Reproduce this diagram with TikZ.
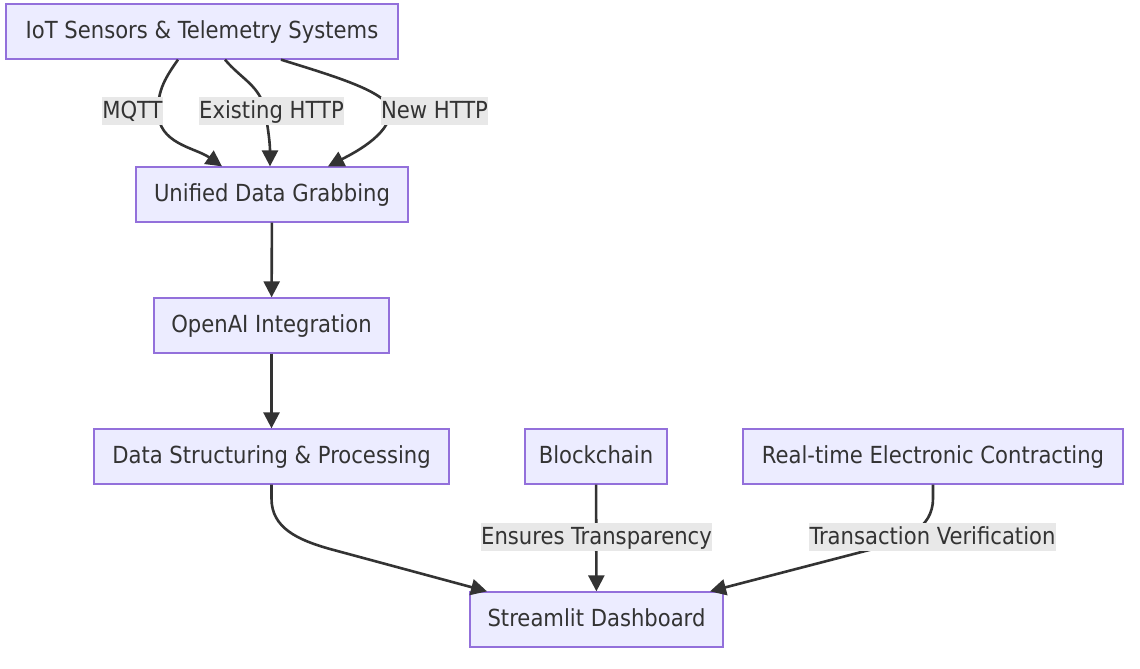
\documentclass[tikz,border=0pt]{standalone}
\usepackage{fontspec}
\setmainfont{DejaVu Sans Condensed}
\usetikzlibrary{arrows.meta}
\definecolor{nodefill}{HTML}{ECECFF}
\definecolor{nodeline}{HTML}{9370DB}
\definecolor{ink}{HTML}{333333}
\definecolor{labelbg}{HTML}{E8E8E8}
\begin{document}
\begin{tikzpicture}[x=1pt,y=-1pt,
  box/.style={draw=nodeline,fill=nodefill,line width=1.3pt,text=ink,inner sep=0pt,
    minimum height=55pt,text height=18pt,text depth=3.5pt,font=\fontsize{23.5}{26}\selectfont},
  elabel/.style={fill=labelbg,text=ink,inner xsep=0.5pt,inner ysep=0pt,minimum height=28pt,
    text height=18pt,text depth=3.5pt,font=\fontsize{23.5}{26}\selectfont},
  link/.style={draw=ink,line width=2.6pt,-{Triangle[length=16pt,width=16pt]}}]
\useasboundingbox (0,0) rectangle (1140,669);
\fill[white] (0,0) rectangle (1140,669);
\node[box,minimum width=392pt] (iot) at (202,31.5) {IoT Sensors \& Telemetry Systems};
\node[box,minimum width=272pt] (udg) at (272,194.5) {Unified Data Grabbing};
\node[box,minimum width=235pt] (oai) at (271.5,325.5) {OpenAI Integration};
\node[box,minimum width=355pt] (dsp) at (271.5,456.5) {Data Structuring \& Processing};
\node[box,minimum width=142pt] (bc) at (596,456.5) {Blockchain};
\node[box,minimum width=380pt] (rtc) at (933,456.5) {Real-time Electronic Contracting};
\node[box,minimum width=253pt] (sd) at (596.5,619.5) {Streamlit Dashboard};

\coordinate (m1) at (158,111);
\coordinate (m2) at (265,111);
\coordinate (m3) at (390,111);
\coordinate (c1) at (330,549);
\coordinate (c2) at (873,549);
\draw[link] (iot.south -| 178,0) to[out=-125,in=90] (m1) to[out=-90,in=145] (udg.north -| 222,0);
\draw[link] (iot.south -| 225,0) to[out=-50,in=100] (m2) to[out=-80,in=90] (udg.north -| 270,0);
\draw[link] (iot.south -| 281,0) .. controls (330,75) and (390,92) .. (m3) .. controls (391,135) and (350,155) .. (udg.north -| 328,0);
\draw[link] (udg) -- (oai);
\draw[link] (oai) -- (dsp);
\draw[link] (dsp.south) -- ++(0,14) .. controls (271.5,528) and (298,540) .. (c1) -- (sd.north -| 487,0);
\draw[link] (bc) -- (sd);
\draw[link] (rtc.south) -- ++(0,14) .. controls (933,528) and (905,540) .. (c2) -- (sd.north -| 710,0);

\node[elabel] (l1) at (132.5,111) {MQTT};
\node[elabel] (l2) at (271.5,111) {Existing HTTP};
\node[elabel] (l3) at (434.5,111) {New HTTP};
\node[elabel] (l4) at (596.5,537) {Ensures Transparency};
\node[elabel] (l5) at (932.5,537) {Transaction Verification};
\end{tikzpicture}
\end{document}
